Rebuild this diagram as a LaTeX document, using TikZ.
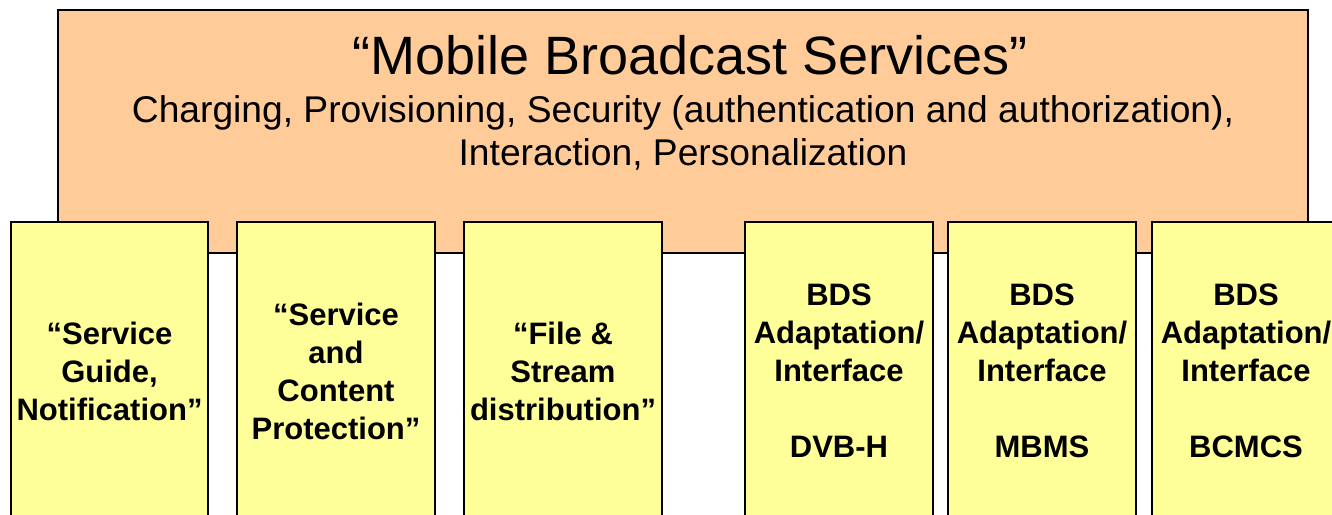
\documentclass[tikz,border=0pt]{standalone}
\usepackage{fontspec}
\setmainfont{Liberation Sans}
\definecolor{peach}{HTML}{FFCC99}
\definecolor{paleyellow}{HTML}{FFFF99}
\begin{document}
\begin{tikzpicture}[x=1pt,y=-1pt,
  framebox/.style={draw=black, line width=2pt, fill=peach, inner sep=0pt, outer sep=0pt,
    minimum width=1250pt, minimum height=243pt},
  blockbox/.style={draw=black, line width=2pt, fill=paleyellow, inner sep=0pt, outer sep=0pt,
    minimum height=298pt, align=center, font=\bfseries\fontsize{31}{38}\selectfont},
  titletext/.style={anchor=base, inner sep=0pt, font=\fontsize{54}{60}\selectfont},
  subtext/.style={anchor=base, inner sep=0pt, font=\fontsize{37.2}{43}\selectfont}]
\useasboundingbox (0,0) rectangle (1332,514);
% service layer frame
\node[framebox] (frame) at (683,131.5) {};
\node[titletext] (title) at (690,74) {“Mobile Broadcast Services”};
\node[subtext] (sub1) at (683,122) {Charging, Provisioning, Security (authentication and authorization),};
\node[subtext] (sub2) at (683,165) {Interaction, Personalization};
% enabler blocks
\node[blockbox, minimum width=197pt] (guide) at (109.5,371) {“Service\\Guide,\\Notification”};
\node[blockbox, minimum width=198pt] (protect) at (336,371) {“Service\\and\\Content\\Protection”};
\node[blockbox, minimum width=198pt] (dist) at (563,371) {“File \&\\Stream\\distribution”};
\node[blockbox, minimum width=188pt] (dvbh) at (839,371) {BDS\\Adaptation/\\Interface\\\mbox{}\\DVB-H};
\node[blockbox, minimum width=188pt] (mbms) at (1042,371) {BDS\\Adaptation/\\Interface\\\mbox{}\\MBMS};
\node[blockbox, minimum width=188pt] (bcmcs) at (1246,371) {BDS\\Adaptation/\\Interface\\\mbox{}\\BCMCS};
\end{tikzpicture}
\end{document}
